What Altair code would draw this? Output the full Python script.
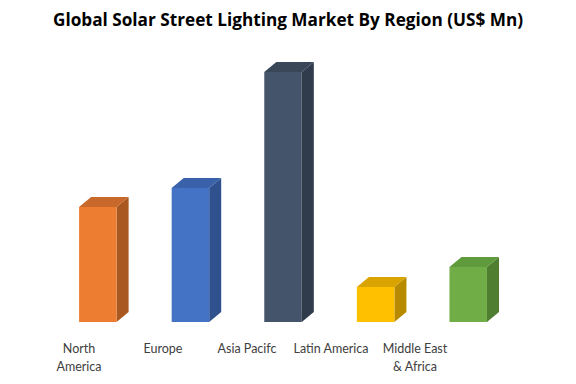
import altair as alt
import pandas as pd

regions = ["North America", "Europe", "Asia Pacifc", "Latin America", "Middle East & Africa"]
label_lines = [["North", "America"], ["Europe"], ["Asia Pacifc"], ["Latin America"], ["Middle East", "& Africa"]]
values = [115, 134, 250, 35, 55]
front_colors = ["#ED7D31", "#4472C4", "#44546A", "#FFC000", "#70AD47"]
top_colors = ["#C8682A", "#3A62AA", "#3A4759", "#D9A300", "#5F9A3C"]
side_colors = ["#A9581F", "#2F528F", "#303C4C", "#B88A00", "#4F7E30"]
title_text = "Global Solar Street Lighting Market By Region (US$ Mn)"

W, H = 560, 368
bar_w = 0.405      # bar width in category units
dx = 0.13          # depth offset along x (category units)
dy = 10            # depth offset along y (value units)

xs = alt.Scale(domain=[-0.97, -0.97 + W / 92.6], nice=False, zero=False)
ys = alt.Scale(domain=[-(H - 314), 314], nice=False, zero=False)

front_rows, side_rows, top_rows = [], [], []
for i, (r, v) in enumerate(zip(regions, values)):
    front_rows.append(dict(region=r, x0=i - bar_w / 2, x1=i + bar_w / 2, y0=0, y1=v, c=front_colors[i]))
    side_rows.append(dict(region=r, x=i + bar_w / 2, y0=0, y1=v, c=side_colors[i]))
    side_rows.append(dict(region=r, x=i + bar_w / 2 + dx, y0=dy, y1=v + dy, c=side_colors[i]))
    top_rows.append(dict(region=r, y=v, x0=i - bar_w / 2, x1=i + bar_w / 2, c=top_colors[i]))
    top_rows.append(dict(region=r, y=v + dy, x0=i - bar_w / 2 + dx, x1=i + bar_w / 2 + dx, c=top_colors[i]))

front = pd.DataFrame(front_rows)
side = pd.DataFrame(side_rows)
top = pd.DataFrame(top_rows)
labels = pd.DataFrame({"region": regions, "lines": label_lines})

side_layer = alt.Chart(side).mark_area(orient="vertical", interpolate="linear").encode(
    x=alt.X("x:Q", scale=xs, axis=None),
    y=alt.Y("y0:Q", scale=ys, axis=None),
    y2="y1:Q",
    detail="region:N",
    color=alt.Color("c:N", scale=None),
)
top_layer = alt.Chart(top).mark_area(orient="horizontal", interpolate="linear").encode(
    y=alt.Y("y:Q", scale=ys, axis=None),
    x=alt.X("x0:Q", scale=xs, axis=None),
    x2="x1:Q",
    detail="region:N",
    color=alt.Color("c:N", scale=None),
)
front_layer = alt.Chart(front).mark_rect().encode(
    x=alt.X("x0:Q", scale=xs, axis=None),
    x2="x1:Q",
    y=alt.Y("y0:Q", scale=ys, axis=None),
    y2="y1:Q",
    color=alt.Color("c:N", scale=None),
)

bars = alt.layer(side_layer, top_layer, front_layer)

label_layer = alt.Chart(labels).mark_text(
    font="Lato", fontSize=12.5, color="#404040", baseline="top", align="center", lineHeight=18
).encode(
    x=alt.X("region:N", sort=regions, scale=alt.Scale(type="point", range=[71, 407], padding=0), axis=None),
    y=alt.value(335),
    text="lines",
)

title_layer = alt.Chart(pd.DataFrame({"t": [title_text]})).mark_text(
    font="Open Sans", fontSize=17.2, fontWeight="bold", color="#000000", baseline="middle", align="center"
).encode(x=alt.value(280), y=alt.value(13), text="t:N")

chart = alt.layer(bars, label_layer, title_layer).resolve_scale(x="independent").properties(
    width=W, height=H, autosize=alt.AutoSizeParams(type="none"), padding=0, background="#ffffff"
).configure_view(strokeWidth=0, stroke=None)

chart.save("out.html", embed_options={"renderer": "svg", "actions": False})
